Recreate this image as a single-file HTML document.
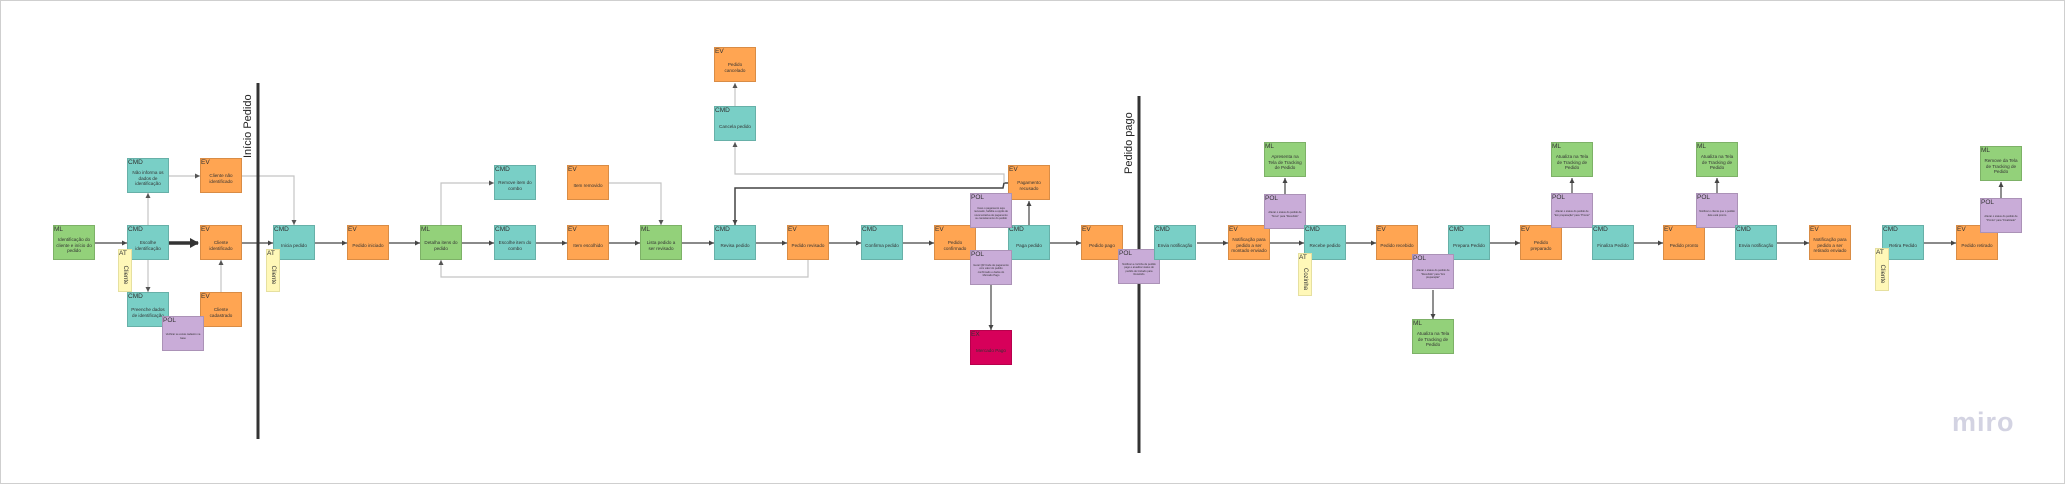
<!DOCTYPE html>
<html><head><meta charset="utf-8"><style>
html,body{margin:0;padding:0;background:#fff}
#c{position:relative;width:2065px;height:484px;overflow:hidden;font-family:"Liberation Sans",sans-serif;box-sizing:border-box;border:1px solid #cfcfcf}
.b{position:absolute;width:42px;height:35px;box-sizing:border-box;border:1px solid rgba(0,0,0,.15);font-size:4.6px;line-height:5.6px;color:#333;display:flex;align-items:center;justify-content:center;text-align:center;padding:6px 2px 0}
.b i{position:absolute;left:0;top:0;font-style:normal;font-size:6.5px;line-height:7px;color:#333}
.cmd{background:#79cfc6}.ev{background:#ffa552}.ml{background:#93d17a}.pol{background:#c9acd8;font-size:2.6px;line-height:3.4px}.ex{background:#d7005a}
.at{position:absolute;width:14px;height:43px;background:#fff8b8;box-sizing:border-box;border:1px solid #e6e0a0}
.at i{position:absolute;left:0;top:0;font-style:normal;font-size:6.5px;color:#333}
.at span{position:absolute;left:50%;top:60%;transform:translate(-50%,-50%) rotate(90deg);font-size:6px;color:#333;white-space:nowrap}
.vl{position:absolute;font-size:11px;color:#222;transform:rotate(-90deg);transform-origin:left top;white-space:nowrap}
svg{position:absolute;left:0;top:0}
</style></head><body><div id="c">
<svg width="2065" height="484">
<defs>
<marker id="a" markerWidth="6" markerHeight="6" refX="5" refY="3" orient="auto" markerUnits="userSpaceOnUse"><path d="M0,0.5 L5,3 L0,5.5z" fill="#444"/></marker>
<marker id="g" markerWidth="6" markerHeight="6" refX="5" refY="3" orient="auto" markerUnits="userSpaceOnUse"><path d="M0,0.5 L5,3 L0,5.5z" fill="#555"/></marker>
<marker id="t" markerWidth="10" markerHeight="10" refX="8" refY="5" orient="auto" markerUnits="userSpaceOnUse"><path d="M0,0 L9,5 L0,10z" fill="#333"/></marker>
</defs>
<g stroke="#444" stroke-width="1.2" fill="none" marker-end="url(#a)">
<line x1="94" y1="242" x2="126" y2="242"/>
<line x1="241" y1="242" x2="272" y2="242"/>
<line x1="314" y1="242" x2="346" y2="242"/>
<line x1="388" y1="242" x2="419" y2="242"/>
<line x1="461" y1="242" x2="493" y2="242"/>
<line x1="535" y1="242" x2="566" y2="242"/>
<line x1="608" y1="242" x2="639" y2="242"/>
<line x1="681" y1="242" x2="713" y2="242"/>
<line x1="755" y1="242" x2="786" y2="242"/>
<line x1="828" y1="242" x2="860" y2="242"/>
<line x1="902" y1="242" x2="933" y2="242"/>
<line x1="1049" y1="242" x2="1080" y2="242"/>
<line x1="1196" y1="242" x2="1227" y2="242"/>
<line x1="1269" y1="242" x2="1303" y2="242"/>
<line x1="1345" y1="242" x2="1375" y2="242"/>
<line x1="1489" y1="242" x2="1519" y2="242"/>
<line x1="1633" y1="242" x2="1662" y2="242"/>
<line x1="1776" y1="242" x2="1808" y2="242"/>
<line x1="1923" y1="242" x2="1955" y2="242"/>
<line x1="1028" y1="224" x2="1028" y2="200"/>
<line x1="990" y1="284" x2="990" y2="329"/>
<line x1="1284" y1="193" x2="1284" y2="177"/>
<line x1="1432" y1="289" x2="1432" y2="318"/>
<line x1="1571" y1="192" x2="1571" y2="177"/>
<line x1="1716" y1="192" x2="1716" y2="177"/>
<line x1="2000" y1="197" x2="2000" y2="181"/>
<polyline points="1007,182 1003,182 1002,187 734,187 734,224" stroke-width="1.5"/>
</g>
<g stroke="#c4c4c4" stroke-width="1.2" fill="none" marker-end="url(#g)">
<line x1="147" y1="224" x2="147" y2="192"/>
<line x1="147" y1="259" x2="147" y2="291"/>
<line x1="168" y1="175" x2="199" y2="175"/>
<line x1="220" y1="291" x2="220" y2="259"/>
<polyline points="241,175 293,175 293,224"/>
<polyline points="440,224 440,182 493,182"/>
<polyline points="608,182 660,182 660,224"/>
<polyline points="807,259 807,276 440,276 440,259"/>
<line x1="734" y1="105" x2="734" y2="82"/>
<polyline points="1003,182 1003,173 734,173 734,141"/>
</g>
<line x1="168" y1="242" x2="197" y2="242" stroke="#333" stroke-width="3.5" marker-end="url(#t)"/>
<line x1="257" y1="82" x2="257" y2="438" stroke="#333" stroke-width="3"/>
<line x1="1138" y1="95" x2="1138" y2="452" stroke="#333" stroke-width="3"/>
</svg>
<div class="vl" style="left:241px;top:157px">Início Pedido</div>
<div class="vl" style="left:1122px;top:173px">Pedido pago</div>

<div class="b ml" style="left:52px;top:224px"><i>ML</i>Identificação do cliente e início do pedido</div>
<div class="b cmd" style="left:126px;top:224px"><i>CMD</i>Escolhe identificação</div>
<div class="b cmd" style="left:126px;top:157px"><i>CMD</i>Não informa os dados de identificação</div>
<div class="b ev" style="left:199px;top:157px"><i>EV</i>Cliente não identificado</div>
<div class="b ev" style="left:199px;top:224px"><i>EV</i>Cliente identificado</div>
<div class="b cmd" style="left:126px;top:291px"><i>CMD</i>Preenche dados de identificação</div>
<div class="b ev" style="left:199px;top:291px"><i>EV</i>Cliente cadastrado</div>
<div class="b pol" style="left:161px;top:315px"><i>POL</i>Verificar se existe cadastro na base</div>
<div class="at" style="left:117px;top:248px"><i>AT</i><span>Cliente</span></div>
<div class="b cmd" style="left:272px;top:224px"><i>CMD</i>Inicia pedido</div>
<div class="at" style="left:265px;top:248px"><i>AT</i><span>Cliente</span></div>
<div class="b ev" style="left:346px;top:224px"><i>EV</i>Pedido iniciado</div>
<div class="b ml" style="left:419px;top:224px"><i>ML</i>Detalha itens do pedido</div>
<div class="b cmd" style="left:493px;top:164px"><i>CMD</i>Remove item do combo</div>
<div class="b ev" style="left:566px;top:164px"><i>EV</i>Item removido</div>
<div class="b cmd" style="left:493px;top:224px"><i>CMD</i>Escolhe item do combo</div>
<div class="b ev" style="left:566px;top:224px"><i>EV</i>Item escolhido</div>
<div class="b ml" style="left:639px;top:224px"><i>ML</i>Lista pedido a ser revisado</div>
<div class="b cmd" style="left:713px;top:224px"><i>CMD</i>Revisa pedido</div>
<div class="b ev" style="left:713px;top:46px"><i>EV</i>Pedido cancelado</div>
<div class="b cmd" style="left:713px;top:105px"><i>CMD</i>Cancela pedido</div>
<div class="b ev" style="left:786px;top:224px"><i>EV</i>Pedido revisado</div>
<div class="b cmd" style="left:860px;top:224px"><i>CMD</i>Confirma pedido</div>
<div class="b ev" style="left:933px;top:224px"><i>EV</i>Pedido confirmado</div>
<div class="b ev" style="left:1007px;top:164px"><i>EV</i>Pagamento recusado</div>
<div class="b cmd" style="left:1007px;top:224px"><i>CMD</i>Paga pedido</div>
<div class="b pol" style="left:969px;top:192px"><i>POL</i>Caso o pagamento seja recusado, habilita a opção de nova tentativa de pagamento ou cancelamento do pedido</div>
<div class="b pol" style="left:969px;top:249px"><i>POL</i>Gerar QR Code de pagamento com valor do pedido confirmado e dados do Mercado Pago</div>
<div class="b ex" style="left:969px;top:329px"><i>EX</i>Mercado Pago</div>
<div class="b ev" style="left:1080px;top:224px"><i>EV</i>Pedido pago</div>
<div class="b pol" style="left:1117px;top:248px"><i>POL</i>Notificar a cozinha de pedido pago e atualizar status do pedido de Iniciado para Recebido</div>
<div class="b cmd" style="left:1153px;top:224px"><i>CMD</i>Envia notificação</div>
<div class="b ev" style="left:1227px;top:224px"><i>EV</i>Notificação para pedido a ser montado enviado</div>
<div class="b ml" style="left:1263px;top:141px"><i>ML</i>Apresenta na Tela de Tracking de Pedido</div>
<div class="b pol" style="left:1263px;top:193px"><i>POL</i>Alterar o status do pedido de "Novo" para "Recebido"</div>
<div class="b cmd" style="left:1303px;top:224px"><i>CMD</i>Recebe pedido</div>
<div class="at" style="left:1297px;top:252px"><i>AT</i><span>Cozinha</span></div>
<div class="b ev" style="left:1375px;top:224px"><i>EV</i>Pedido recebido</div>
<div class="b cmd" style="left:1447px;top:224px"><i>CMD</i>Prepara Pedido</div>
<div class="b pol" style="left:1411px;top:253px"><i>POL</i>Alterar o status do pedido de "Recebido" para "Em preparação"</div>
<div class="b ml" style="left:1411px;top:318px"><i>ML</i>Atualiza na Tela de Tracking de Pedido</div>
<div class="b ev" style="left:1519px;top:224px"><i>EV</i>Pedido preparado</div>
<div class="b ml" style="left:1550px;top:141px"><i>ML</i>Atualiza na Tela de Tracking de Pedido</div>
<div class="b pol" style="left:1550px;top:192px"><i>POL</i>Alterar o status do pedido de "Em preparação" para "Pronto"</div>
<div class="b cmd" style="left:1591px;top:224px"><i>CMD</i>Finaliza Pedido</div>
<div class="b ev" style="left:1662px;top:224px"><i>EV</i>Pedido pronto</div>
<div class="b ml" style="left:1695px;top:141px"><i>ML</i>Atualiza na Tela de Tracking de Pedido</div>
<div class="b pol" style="left:1695px;top:192px"><i>POL</i>Notificar o cliente que o pedido dele está pronto</div>
<div class="b cmd" style="left:1734px;top:224px"><i>CMD</i>Envia notificação</div>
<div class="b ev" style="left:1808px;top:224px"><i>EV</i>Notificação para pedido a ser retirado enviado</div>
<div class="b cmd" style="left:1881px;top:224px"><i>CMD</i>Retira Pedido</div>
<div class="at" style="left:1874px;top:247px"><i>AT</i><span>Cliente</span></div>
<div class="b ev" style="left:1955px;top:224px"><i>EV</i>Pedido retirado</div>
<div class="b ml" style="left:1979px;top:145px"><i>ML</i>Remove da Tela de Tracking de Pedido</div>
<div class="b pol" style="left:1979px;top:197px"><i>POL</i>Alterar o status do pedido de "Pronto" para "Finalizado"</div>
<div style="position:absolute;left:1951px;top:406px;font-size:27px;font-weight:bold;color:#d3d3e2;letter-spacing:1px">miro</div>
</div></body></html>
